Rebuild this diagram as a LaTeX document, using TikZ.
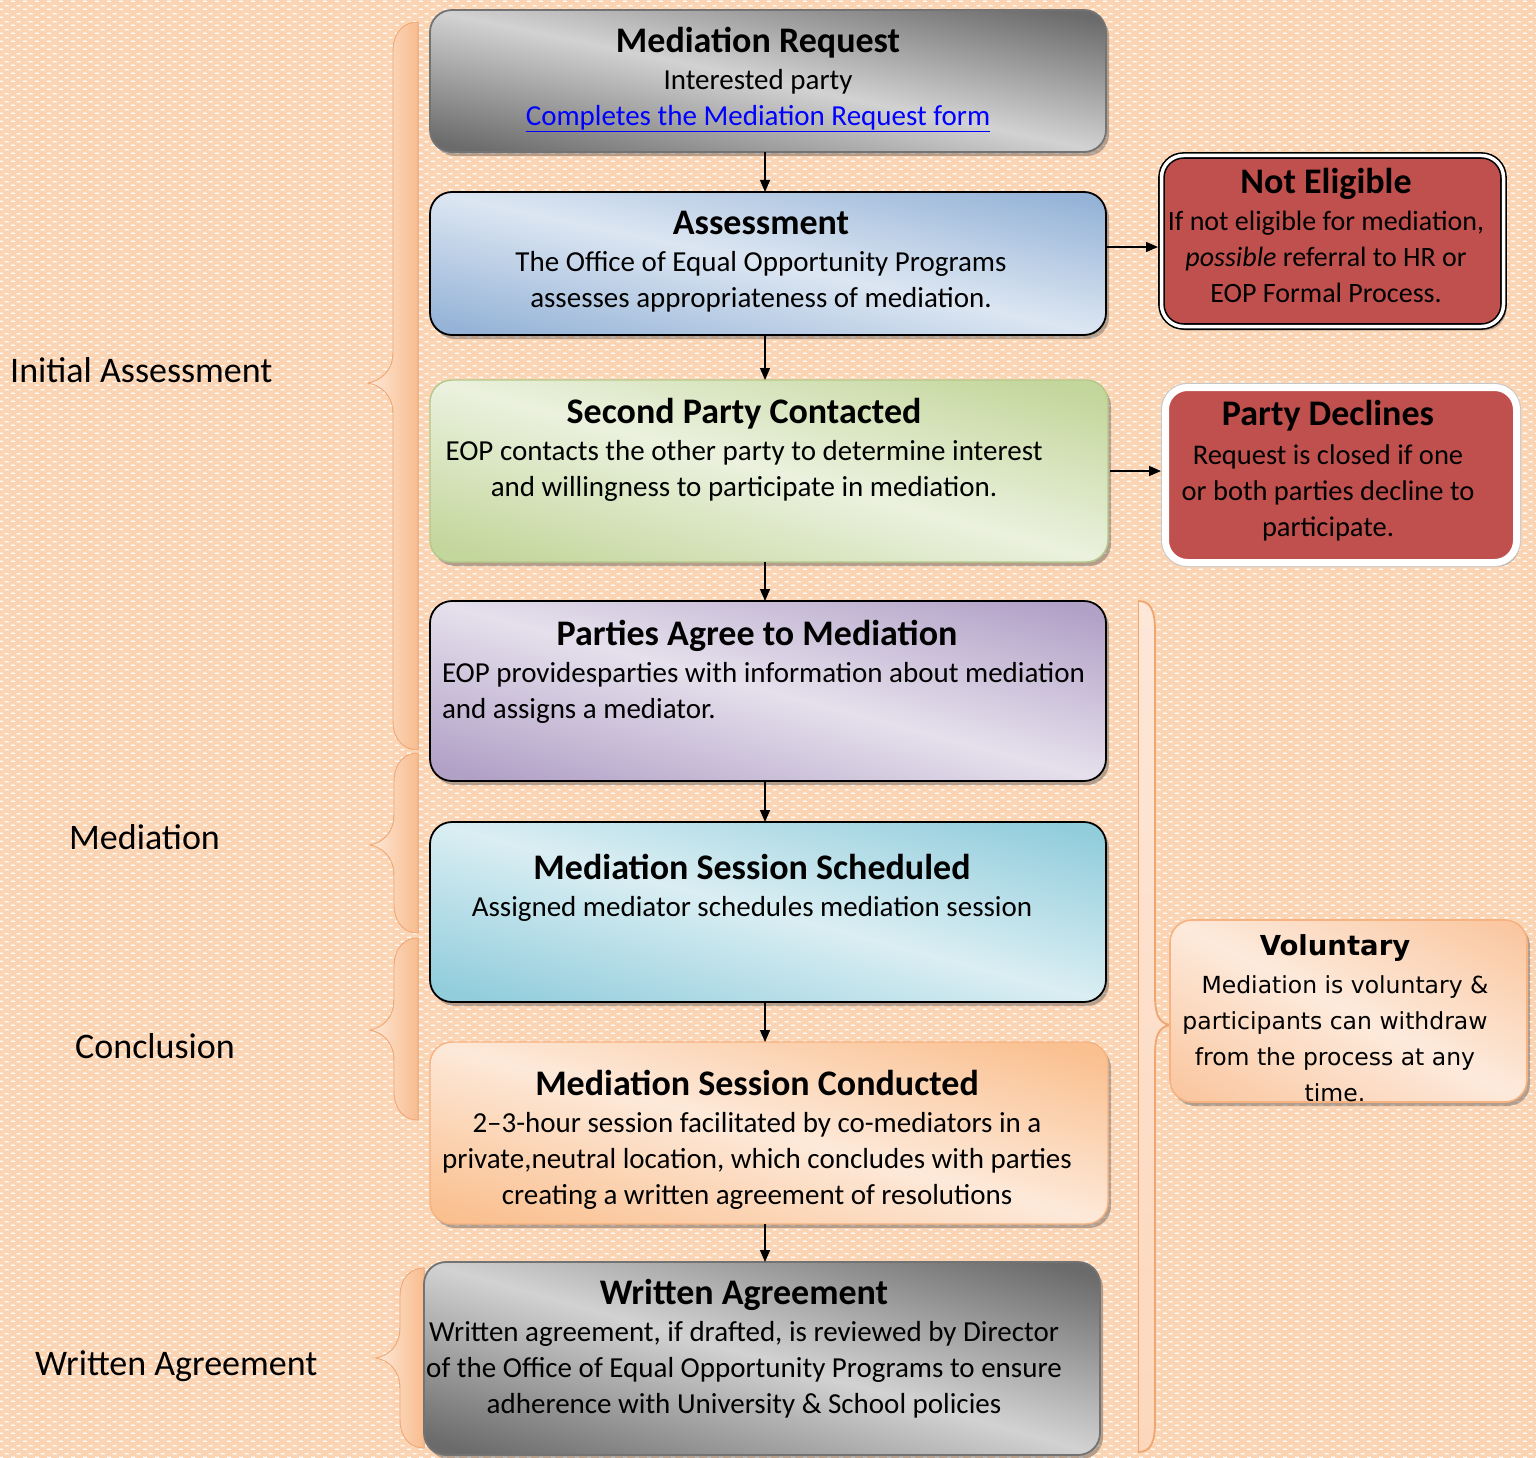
\documentclass[tikz,border=0pt]{standalone}
\usepackage{fontspec}
\setmainfont{Carlito}
\newfontfamily\volfont{DejaVu Sans}
\usetikzlibrary{arrows.meta,shadows,patterns}

% palette
\definecolor{pagepeach}{HTML}{FBD4B4}
\definecolor{curlLight}{HTML}{FDE9D9}
\definecolor{curlDark}{HTML}{F8BC8E}
\definecolor{curlEdge}{HTML}{F4AB78}
\definecolor{curlPale}{HTML}{FDE7D8}
\definecolor{curlLow}{HTML}{FCD7BC}
\definecolor{curlRim}{HTML}{EEA672}
\definecolor{grayDark}{HTML}{6B6B6B}
\definecolor{grayLight}{HTML}{D2D2D2}
\definecolor{blueDark}{HTML}{95B3D7}
\definecolor{blueLight}{HTML}{DCE6F2}
\definecolor{greenDark}{HTML}{C3D69B}
\definecolor{greenLight}{HTML}{EBF1DE}
\definecolor{greenEdge}{HTML}{B3C98A}
\definecolor{purpleDark}{HTML}{B2A1C7}
\definecolor{purpleLight}{HTML}{E5E0EC}
\definecolor{aquaDark}{HTML}{92CDDC}
\definecolor{aquaLight}{HTML}{DAEEF3}
\definecolor{orangeDark}{HTML}{FAC090}
\definecolor{orangeLight}{HTML}{FDE9D9}
\definecolor{orangeEdge}{HTML}{F6B281}
\definecolor{volDark}{HTML}{FAC7A0}
\definecolor{volLight}{HTML}{FDEADC}
\definecolor{alertRed}{HTML}{C0504D}
\definecolor{linkblue}{HTML}{0000FF}

% small white dashes laid like bricks
\pgfdeclarepatternformonly{brickdash}{\pgfqpoint{0pt}{0pt}}{\pgfqpoint{12pt}{8pt}}{\pgfqpoint{12pt}{8pt}}{%
  \pgfpathrectangle{\pgfqpoint{0pt}{0pt}}{\pgfqpoint{4.5pt}{1.6pt}}%
  \pgfpathrectangle{\pgfqpoint{6pt}{4pt}}{\pgfqpoint{4.5pt}{1.6pt}}%
  \pgfusepath{fill}}

\newcommand\boxtitle[1]{{\fontsize{36}{36}\selectfont\bfseries\rule{0pt}{26pt}#1}}

% curly bracket opening to the right: right x, stem x, tip x, top, bottom, tip y
\newcommand\leftcurl[6]{%
  \filldraw[curl] (#1,#4) -- (#1,#5)
    .. controls (#1-12,#5) and (#2,#5-8) .. (#2,#5-30)
    -- (#2,#6+30)
    .. controls (#2,#6+12) and (#3+12,#6+2) .. (#3,#6)
    .. controls (#3+12,#6-2) and (#2,#6-12) .. (#2,#6-30)
    -- (#2,#4+30)
    .. controls (#2,#4+8) and (#1-12,#4) .. (#1,#4) -- cycle;}
% curly bracket opening to the left: left x, stem x, tip x, top, bottom, tip y
\newcommand\rightcurl[6]{%
  \fill[curlR] (#1,#4) -- (#1,#5)
    .. controls (#1+12,#5) and (#2,#5-8) .. (#2,#5-30)
    -- (#2,#6+30)
    .. controls (#2,#6+12) and (#3-12,#6+2) .. (#3,#6)
    .. controls (#3-12,#6-2) and (#2,#6-12) .. (#2,#6-30)
    -- (#2,#4+30)
    .. controls (#2,#4+8) and (#1+12,#4) .. (#1,#4) -- cycle;
  \draw[curlRim, line width=0.8pt] (#1,#5) -- (#1,#4);
  \draw[curlRim, line width=1.8pt] (#1,#4)
    .. controls (#1+12,#4) and (#2,#4+8) .. (#2,#4+30)
    -- (#2,#6-30)
    .. controls (#2,#6-12) and (#3-12,#6-2) .. (#3,#6)
    .. controls (#3-12,#6+2) and (#2,#6+12) .. (#2,#6+30)
    -- (#2,#5-30)
    .. controls (#2,#5-8) and (#1+12,#5) .. (#1,#5);}

\tikzset{
  stage/.style={rectangle, rounded corners=22pt, inner sep=0pt, outer sep=0pt,
    line width=1.8pt,
    drop shadow={shadow xshift=3pt, shadow yshift=-4pt, opacity=0.4, fill=black!70}},
  % light band along the top-left / bottom-right diagonal, dark towards the other corners
  % args: dark colour, light colour, diagonal angle, half spread
  diag/.style n args={4}{fill=#1, path picture={
    \begin{scope}[transform canvas={rotate around={-#3:(path picture bounding box.center)}}]
      \shade[top color=#1, bottom color=#1, middle color=#2]
        ([shift={(-480pt,-#4pt)}]path picture bounding box.center) rectangle
        ([shift={(480pt,#4pt)}]path picture bounding box.center);
    \end{scope}}},
  words/.style={font=\fontsize{29}{36}\selectfont, align=center, inner sep=0pt, anchor=north},
  side/.style={font=\fontsize{36}{40}\selectfont, anchor=base west, inner sep=0pt},
  arr/.style={-{Triangle[length=12pt,width=10pt]}, line width=1.3pt},
  curl/.style={left color=curlLight, right color=curlDark, draw=curlEdge, line width=0.9pt},
  curlR/.style={top color=curlPale, bottom color=curlLow},
}

\begin{document}
\begin{tikzpicture}[x=1pt,y=-1pt]
\useasboundingbox (0,0) rectangle (1536,1458);
\fill[pagepeach] (0,0) rectangle (1536,1458);
\fill[pattern=brickdash, pattern color=white] (0,0) rectangle (1536,1458);

% phase brackets
\leftcurl{418}{393}{368}{22}{750}{383}
\leftcurl{418}{394}{370}{753}{933}{845}
\leftcurl{418}{394}{370}{938}{1120}{1030}
\leftcurl{424}{400}{376}{1268}{1448}{1358}
\rightcurl{1138}{1155}{1170}{601}{1452}{1025}

% main flow
\node[stage, draw=black!55, diag={grayDark}{grayLight}{11.9}{128}, minimum width=676pt, minimum height=142pt] (req) at (768,81) {};
\node[stage, draw=black, diag={blueDark}{blueLight}{11.9}{128}, minimum width=676pt, minimum height=143pt] (asm) at (768,263.5) {};
\node[stage, draw=greenEdge, line width=1.4pt, diag={greenDark}{greenLight}{15}{160}, minimum width=678pt, minimum height=182pt] (spc) at (769,471) {};
\node[stage, draw=black, diag={purpleDark}{purpleLight}{14.9}{158}, minimum width=676pt, minimum height=180pt] (pam) at (768,691) {};
\node[stage, draw=black, diag={aquaDark}{aquaLight}{14.9}{158}, minimum width=676pt, minimum height=180pt] (mss) at (768,912) {};
\node[stage, draw=orangeEdge, line width=1.4pt, diag={orangeDark}{orangeLight}{15}{160}, minimum width=678pt, minimum height=182pt] (msc) at (769,1133) {};
\node[stage, draw=black!55, diag={grayDark}{grayLight}{15.9}{170}, minimum width=676pt, minimum height=193pt] (wag) at (762,1358.5) {};

% side outcomes
\node[stage, fill=alertRed, draw=black, line width=1.6pt, double=white, double distance=3.5pt,
  outer sep=3.5pt, minimum width=342pt, minimum height=171pt] (ne) at (1332.5,241) {};
\node[stage, fill=alertRed, draw=white, line width=7pt, preaction={draw=black!22, line width=9pt},
  outer sep=4.5pt, minimum width=351pt, minimum height=175pt] (pd) at (1341,475) {};
\node[stage, draw=orangeEdge, line width=1.6pt, diag={volDark}{volLight}{27}{150}, minimum width=357pt, minimum height=182pt] (vol) at (1348.5,1011) {};

% box texts
\node[words] (req-t) at (758,26) {\boxtitle{Mediation Request}\\[1pt]
  Interested party\\
  \textcolor{linkblue}{\underline{Completes the Mediation Request form}}};
\node[words] (asm-t) at (761,208) {\boxtitle{Assessment}\\[1pt]
  The Office of Equal Opportunity Programs\\
  assesses appropriateness of mediation.};
\node[words] (spc-t) at (744,397) {\boxtitle{Second Party Contacted}\\[1pt]
  EOP contacts the other party to determine interest\\
  and willingness to participate in mediation.};
\node[words] (pam-t) at (757,619) {\boxtitle{Parties Agree to Mediation}\\[1pt]
  \makebox[630pt][l]{EOP providesparties with information about mediation}\\
  \makebox[630pt][l]{and assigns a mediator.}};
\node[words] (mss-t) at (752,853) {\boxtitle{Mediation Session Scheduled}\\[1pt]
  Assigned mediator schedules mediation session};
\node[words] (msc-t) at (757,1069) {\boxtitle{Mediation Session Conducted}\\[1pt]
  2–3-hour session facilitated by co-mediators in a\\
  private,neutral location, which concludes with parties\\
  creating a written agreement of resolutions};
\node[words] (wag-t) at (744,1278) {\boxtitle{Written Agreement}\\[1pt]
  Written agreement, if drafted, is reviewed by Director\\
  of the Office of Equal Opportunity Programs to ensure\\
  adherence with University \& School policies};
\node[words, font=\fontsize{28}{36}\selectfont] (ne-t) at (1326,167) {\boxtitle{Not Eligible}\\[1pt]
  If not eligible for mediation,\\
  \textit{possible} referral to HR or\\
  EOP Formal Process.};
\node[words, font=\fontsize{28.5}{36}\selectfont] (pd-t) at (1328,399) {\boxtitle{Party Declines}\\[3pt]
  Request is closed if one\\
  or both parties decline to\\
  participate.};
\node[words, font=\volfont\fontsize{23.5}{36}\selectfont] (vol-t) at (1335,933.5)
  {{\fontsize{27.5}{27}\selectfont\bfseries\rule{0pt}{22pt}Voluntary}\\[1.5pt]
  \hspace*{20pt}Mediation is voluntary \&\\
  participants can withdraw\\
  from the process at any\\
  time.};

% connectors
\coordinate (spine) at (765,0);
\coordinate (neLevel) at (0,247);
\draw[arr] (req.south -| spine) -- (asm.north -| spine);
\draw[arr] (asm.south -| spine) -- (spc.north -| spine);
\draw[arr] (spc.south -| spine) -- (pam.north -| spine);
\draw[arr] (pam.south -| spine) -- (mss.north -| spine);
\draw[arr] (mss.south -| spine) -- (msc.north -| spine);
\draw[arr] (msc.south -| spine) -- (wag.north -| spine);
\draw[arr] (asm.east |- neLevel) -- (ne.west |- neLevel);
\draw[arr] ([xshift=2pt]spc.east) -- (pd.west |- spc.east);

% phase labels
\node[side] (lab-init) at (10,382) {Initial Assessment};
\node[side] (lab-med) at (69,849) {Mediation};
\node[side] (lab-conc) at (75,1058) {Conclusion};
\node[side] (lab-wag) at (35,1375) {Written Agreement};
\end{tikzpicture}
\end{document}
